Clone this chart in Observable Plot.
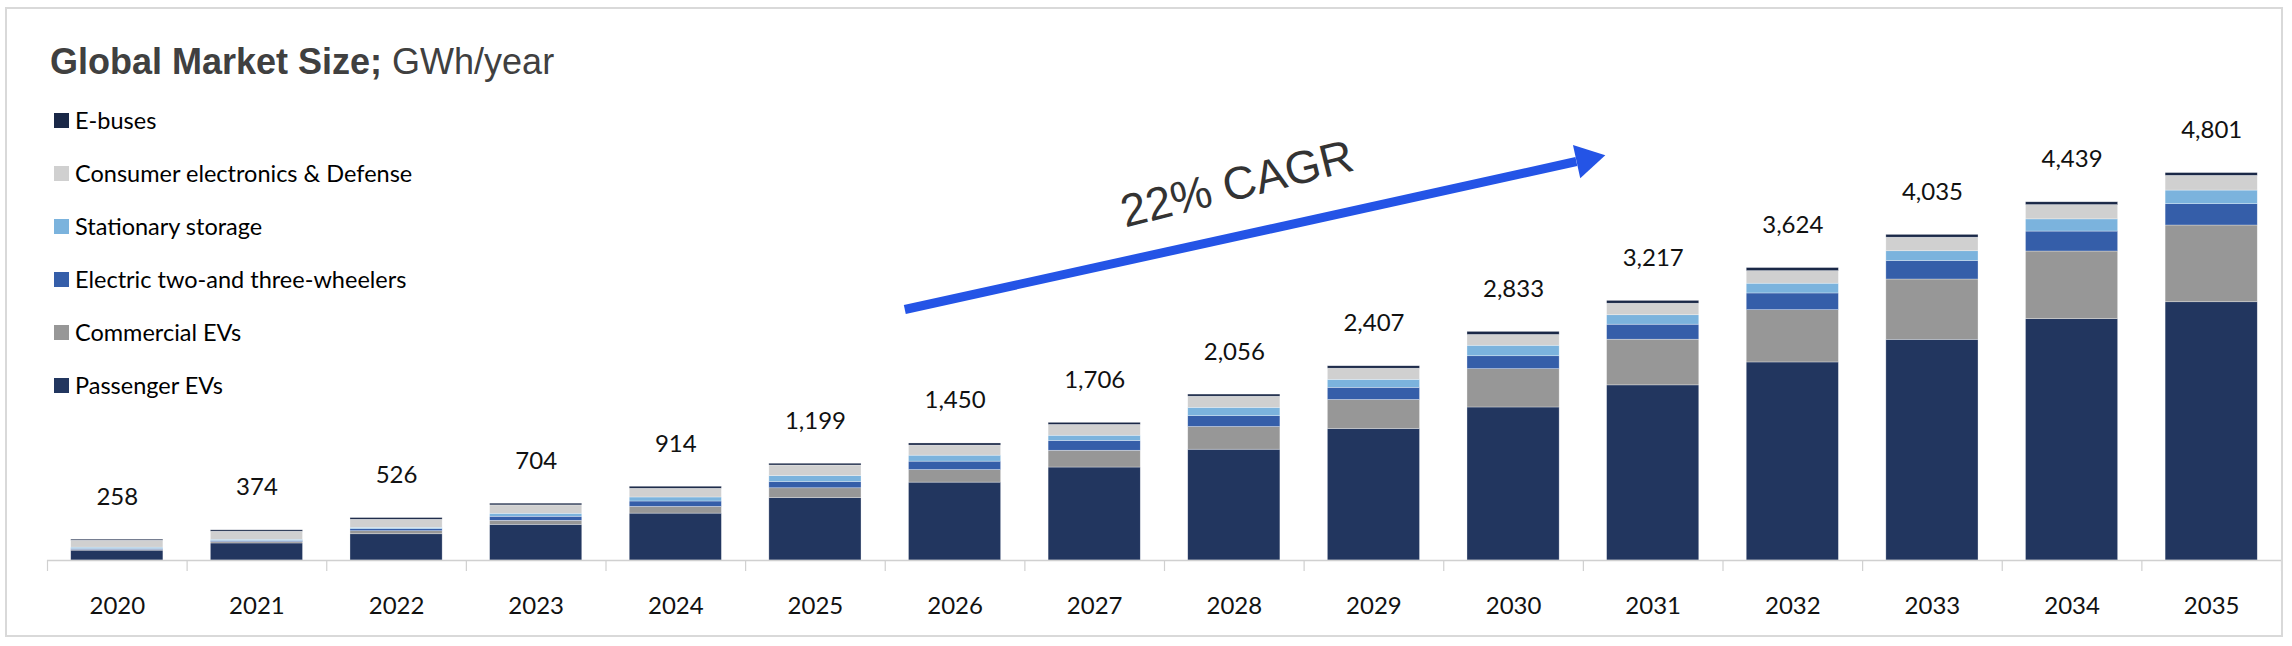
<!DOCTYPE html>
<html>
<head>
<meta charset="utf-8">
<script src="https://cdn.jsdelivr.net/npm/d3@7"></script>
<script src="https://cdn.jsdelivr.net/npm/@observablehq/plot@0.6"></script>
<style>
  html, body { margin: 0; padding: 0; background: #fff; }
  #wrap { position: relative; width: 2292px; height: 646px; overflow: hidden; }
  #frame { position: absolute; left: 5px; top: 7px; width: 2278px; height: 630px; box-sizing: border-box;
           border: 2.5px solid #d9d9d9; pointer-events: none; }
  #chart { position: absolute; left: 0; top: 0; }
  #title { position: absolute; left: 50px; top: 44px; font-family: "Liberation Sans", Arial, sans-serif;
           font-size: 36px; line-height: 36px; color: #404040; white-space: nowrap; }
  #title b { font-weight: bold; }
  #legend { position: absolute; left: 54px; top: 0; font-family: Lato, "Open Sans", sans-serif; font-size: 23.5px; color: #000; }
  .row { position: absolute; left: 0; height: 24px; display: flex; align-items: center; white-space: nowrap; }
  .sw { width: 15px; height: 15px; margin-right: 6px; flex: none; }
</style>
</head>
<body>
<div id="wrap">
  <div id="chart"></div>
  <div id="title"><b>Global Market Size;</b> GWh/year</div>
  <div id="legend"></div>
  <div id="frame"></div>
</div>
<script>
// ---- data ----
const years = [2020, 2021, 2022, 2023, 2024, 2025, 2026, 2027, 2028, 2029, 2030, 2031, 2032, 2033, 2034, 2035];
const totals = [258, 374, 526, 704, 914, 1199, 1450, 1706, 2056, 2407, 2833, 3217, 3624, 4035, 4439, 4801];
const passengerEVs      = [122, 211, 325, 442, 581, 774, 965, 1152, 1373, 1630, 1896, 2170, 2454, 2735, 2990, 3200];
const commercialEVs     = [8, 17, 38, 50, 83, 121, 156, 208, 281, 359, 475, 566, 648, 747, 839, 951];
const twoThreeWheelers  = [12, 12, 25, 50, 67, 78, 104, 121, 134, 151, 160, 186, 207, 229, 247, 264];
const stationaryStorage = [17, 17, 17, 37, 50, 74, 74, 65, 104, 99, 130, 117, 121, 121, 151, 169];
const consumerDefense   = [86, 100, 100, 104, 108, 130, 125, 134, 138, 138, 134, 143, 156, 168, 177, 182];
const eBuses            = [13, 17, 21, 21, 25, 22, 26, 26, 26, 30, 38, 35, 38, 35, 35, 35];

const seriesNames = ["Passenger EVs", "Commercial EVs", "Electric two-and three-wheelers",
                     "Stationary storage", "Consumer electronics & Defense", "E-buses"];
const seriesValues = [passengerEVs, commercialEVs, twoThreeWheelers, stationaryStorage, consumerDefense, eBuses];
const seriesColors = ["#22365f", "#979797", "#355ea9", "#7bb3dd", "#d0d0d0", "#1a2847"];

// annotation (data coordinates: year, GWh)
const arrowShaft = [{x1: 2025.64, y1: 3110, x2: 2030.45, y2: 4944}];
const arrowHead = [{x: 2030.52, y: 4969}];
const cagrLabel = [{x: 2028.02, y: 4659, text: "22% CAGR"}];

// ---- stacked table built from the arrays ----
const stacked = [];
years.forEach((yr, i) => {
  let base = 0;
  seriesNames.forEach((name, s) => {
    const v = seriesValues[s][i];
    stacked.push({year: yr, series: name, y1: base, y2: base + v});
    base += v;
  });
});
const totalRows = years.map((yr, i) => ({year: yr, total: totals[i]}));
const boundaries = years.map(y => y - 0.5).concat([years[years.length - 1] + 0.5]);
const halfBar = 0.33;

const numFont = "Lato, 'Open Sans', sans-serif";

const chart = Plot.plot({
  width: 2292,
  height: 646,
  marginLeft: 47,
  marginRight: 11,
  marginTop: 100,
  marginBottom: 86,
  style: {background: "transparent"},
  x: {type: "linear", domain: [years[0] - 0.5, years[years.length - 1] + 0.5], axis: null},
  y: {domain: [0, 5700], axis: null},
  color: {domain: seriesNames, range: seriesColors},
  marks: [
    Plot.rect(stacked, {
      x1: d => d.year - halfBar, x2: d => d.year + halfBar,
      y1: "y1", y2: "y2", fill: "series",
      stroke: "#ffffff", strokeWidth: 0.6, strokeOpacity: 0.5
    }),
    Plot.ruleY([0], {stroke: "#d0d0d0", strokeWidth: 1.5}),
    Plot.axisX(boundaries, {tickSize: 11, tickFormat: () => "", stroke: "#d0d0d0", strokeWidth: 1.2}),
    Plot.text(years, {
      x: d => d, frameAnchor: "bottom", lineAnchor: "bottom", dy: 53,
      text: d => String(d), fontSize: 24, fontFamily: numFont, fill: "#111"
    }),
    Plot.text(totalRows, {
      x: "year", y: "total", text: d => d3.format(",")(d.total),
      lineAnchor: "bottom", dy: -35, fontSize: 24, fontFamily: numFont, fill: "#111"
    }),
    Plot.link(arrowShaft, {x1: "x1", y1: "y1", x2: "x2", y2: "y2", stroke: "#2454e6", strokeWidth: 9}),
    Plot.dot(arrowHead, {x: "x", y: "y", symbol: "triangle", r: 12.6, fill: "#2454e6", rotate: 77.6}),
    Plot.text(cagrLabel, {
      x: "x", y: "y", text: "text", rotate: -14, fontSize: 46,
      fontFamily: "'Liberation Sans', Arial, sans-serif", fill: "#333"
    })
  ]
});
document.getElementById("chart").appendChild(chart);

// ---- legend (top to bottom = reverse stack order) ----
const legend = document.getElementById("legend");
const rowCenters0 = 120, rowStep = 53;
seriesNames.slice().reverse().forEach((name, k) => {
  const idx = seriesNames.indexOf(name);
  const row = document.createElement("div");
  row.className = "row";
  row.style.top = (rowCenters0 + k * rowStep - 12) + "px";
  const sw = document.createElement("span");
  sw.className = "sw";
  sw.style.background = seriesColors[idx];
  const tx = document.createElement("span");
  tx.textContent = name;
  row.appendChild(sw);
  row.appendChild(tx);
  legend.appendChild(row);
});
</script>
</body>
</html>
